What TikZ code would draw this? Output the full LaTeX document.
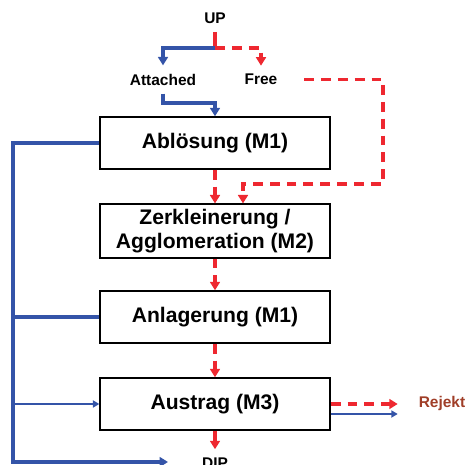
\documentclass[tikz,border=0pt]{standalone}
\usepackage{fontspec}
\setmainfont{Liberation Sans}
\usetikzlibrary{arrows.meta}

\definecolor{flowblue}{RGB}{52,84,168}
\definecolor{flowred}{RGB}{238,40,48}
\definecolor{rejbrown}{RGB}{160,62,40}

\tikzset{
  stage/.style={draw, line width=1pt, minimum width=5.75cm, minimum height=1.3cm,
    align=center, font=\bfseries\fontsize{15}{17.5}\selectfont},
  tag/.style={font=\bfseries\fontsize{11}{13}\selectfont, inner sep=1pt, outer sep=5pt},
  blueflow/.style={flowblue, line width=2.3pt},
  bluethin/.style={flowblue, line width=1.1pt, >={Triangle[width=5pt,length=4.5pt]}},
  redflow/.style={flowred, line width=2.2pt},
  reddash/.style={flowred, line width=2.2pt, dash pattern=on 7pt off 5pt},
}

\begin{document}
\begin{tikzpicture}[x=0.025cm, y=-0.025cm, >={Triangle[width=7pt,length=6pt]}]
  \useasboundingbox (0,0) rectangle (468,465);
  \clip (0,0) rectangle (468,465);

  % Stufen
  \node[stage] (abl) at (215,143) {Abl\"osung (M1)};
  \node[stage] (zer) at (215,231) {Zerkleinerung /\\Agglomeration (M2)};
  \node[stage] (anl) at (215,317) {Anlagerung (M1)};
  \node[stage] (aus) at (215,404) {Austrag (M3)};

  % Ein- und Ausgaenge
  \node[tag] (up) at (215,18) {UP};
  \node[tag] (att) at (163,79.5) {Attached};
  \node[tag] (free) at (261,79.5) {Free};
  \node[tag, rejbrown] (rej) at (442,404) {Rejekt};
  \node[tag] (dip) at (215,463) {DIP};

  % Hilfspunkte
  \coordinate (split) at (215,48);
  \coordinate (feed) at (215,103);
  \coordinate (bypass) at (383,184);
  \coordinate (merge) at (243,184);
  \coordinate (back) at (13,462);
  \coordinate (backend) at (168,462);
  \coordinate (mid) at (13,317);
  \coordinate (side) at (13,404);

  % Zulauf
  \draw[redflow] (up) -- (split);
  \draw[blueflow,->] (split) -| (att);
  \draw[reddash,->] (split) -| (free);
  \draw[blueflow,->] (att) |- (feed) -- (abl);
  \draw[reddash,->, shorten <=13pt] (free) -| (bypass) -- (merge) -- (merge |- zer.north);

  % Hauptstrom
  \draw[reddash,->] (abl) -- (zer);
  \draw[reddash,->] (zer) -- (anl);
  \draw[reddash,->] (anl) -- (aus);
  \draw[redflow,->] (aus) -- (dip);

  % Rueckfuehrung links
  \draw[blueflow,->] (abl) -| (back) -- (backend);
  \draw[blueflow] (anl) -- (mid);
  \draw[bluethin,->] (side) -- (aus);

  % Rejekt
  \draw[reddash,->, shorten >=9pt] (aus) -- (rej);
  \draw[bluethin,->, shorten >=9pt] ([yshift=-0.25cm]aus.east) -- ([yshift=-0.25cm]rej.west);
\end{tikzpicture}
\end{document}
